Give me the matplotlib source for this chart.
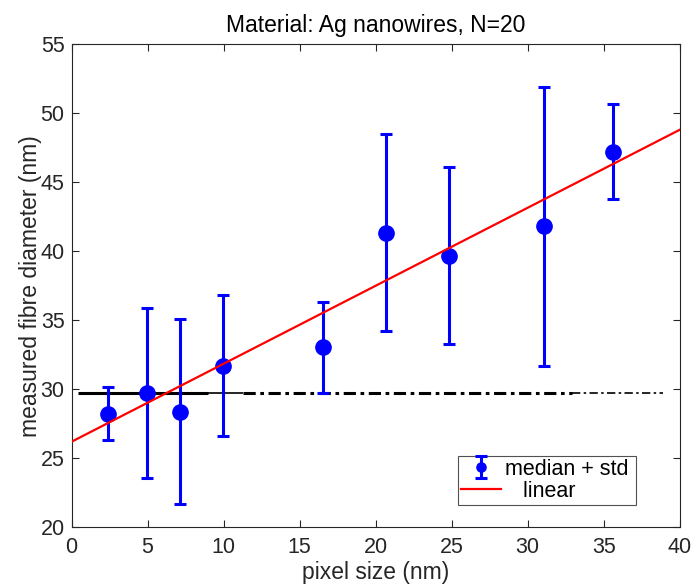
import numpy as np
import matplotlib
matplotlib.use("Agg")
import matplotlib.pyplot as plt

plt.rcParams['font.family'] = ['Liberation Sans', 'DejaVu Sans']

# data
pixel_size = [2.4, 4.95, 7.1, 9.95, 16.55, 20.7, 24.8, 31.1, 35.6]
median_d = [28.2, 29.75, 28.35, 31.7, 33.05, 41.3, 39.65, 41.8, 47.2]
err_low = [26.3, 23.6, 21.7, 26.65, 29.75, 34.2, 33.3, 31.65, 43.8]
err_high = [30.15, 35.9, 35.1, 36.8, 36.3, 48.5, 46.1, 51.9, 50.7]

fit_x = [0, 40]
fit_y = [26.2, 48.8]

# black reference line pieces (x start, x end)
ref_level = 29.7
ref_solid = [0.4, 9.0]
ref_solid_thin = [9.0, 11.3]
ref_dash = [11.3, 32.9]
ref_dash_thin = [32.9, 38.9]

fig = plt.figure(figsize=(6.95, 5.87), dpi=100)
ax = fig.add_axes([0.103, 0.1017, 0.875, 0.823])

ax.plot(ref_solid, [ref_level]*2, color='k', lw=2.2, solid_capstyle='butt')
ax.plot(ref_solid_thin, [ref_level]*2, color='k', lw=1.2, solid_capstyle='butt')
ax.plot(ref_dash, [ref_level]*2, color='k', lw=2.2, ls=(0, (4, 1.5, 1.2, 1.5)))
ax.plot(ref_dash_thin, [ref_level]*2, color='k', lw=1.2, ls=(0, (5, 2, 1.5, 2)))

yerr = np.array([np.array(median_d) - np.array(err_low),
                 np.array(err_high) - np.array(median_d)])
eb = ax.errorbar(pixel_size, median_d, yerr=yerr, fmt='o', color='#0000ff',
                 ms=11, elinewidth=2.2, capsize=4, capthick=2.2,
                 label='median + std', zorder=3)
ln, = ax.plot(fit_x, fit_y, color='#ff0000', lw=1.6, label='   linear', zorder=4)

ax.set_xlim(0, 40)
ax.set_ylim(20, 55)
ax.set_xticks(np.arange(0, 41, 5))
ax.set_yticks(np.arange(20, 56, 5))
ax.tick_params(direction='in', top=True, right=True, length=5, width=0.8,
               labelsize=15.5, colors='#262626')
ax.tick_params(axis='x', pad=7)
ax.tick_params(axis='y', pad=5)
for s in ax.spines.values():
    s.set_color('#262626')
    s.set_linewidth(0.8)

ax.set_title('Material: Ag nanowires, N=20', fontsize=16.5, color='#000000', pad=9)
ax.set_xlabel('pixel size (nm)', fontsize=16.5, color='#262626', labelpad=2)
ax.set_ylabel('measured fibre diameter (nm)', fontsize=16.5, color='#262626', labelpad=-1)

leg = ax.legend(handles=[eb, ln], loc='lower left', bbox_to_anchor=(0.635, 0.046, 0.293, 0.114),
                mode='expand', fontsize=15.5, frameon=True, fancybox=False,
                borderpad=0.15, handlelength=1.85, handletextpad=0.2,
                labelspacing=0.05, markerscale=0.6, borderaxespad=0)
leg.get_frame().set_edgecolor('#262626')
leg.get_frame().set_linewidth(0.8)

fig.savefig('out.png', dpi=100)
